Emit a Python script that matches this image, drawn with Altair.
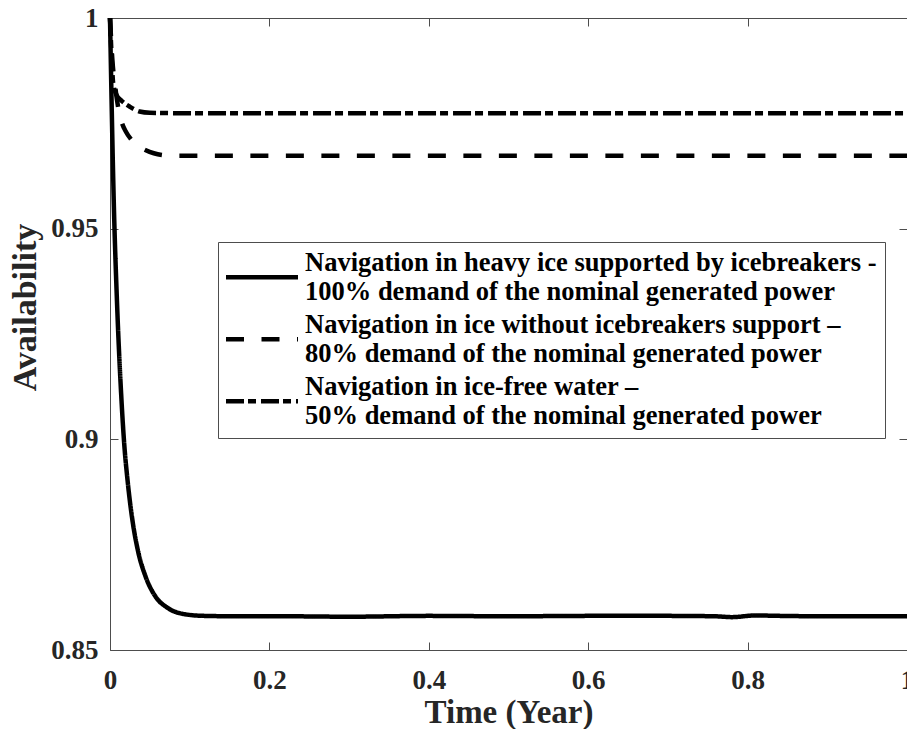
import altair as alt
import pandas as pd

# ---- axis ticks ----
x_ticks = [0, 0.2, 0.4, 0.6, 0.8, 1.0]
y_ticks = [0.85, 0.9, 0.95, 1.0]

# ---- series labels (| = line break in legend) ----
series_labels = [
    "Navigation in heavy ice supported by icebreakers -|100% demand of the nominal generated power",
    "Navigation in ice without icebreakers support –|80% demand of the nominal generated power",
    "Navigation in ice-free water –|50% demand of the nominal generated power",
]

# ---- series values ----
heavy_t = [0, 0.005, 0.0087, 0.0145, 0.0175, 0.0224, 0.0287, 0.0349, 0.0449, 0.0574,
           0.0723, 0.0935, 0.118, 0.16, 0.22, 0.3, 0.4, 0.5, 0.6, 0.7, 0.76, 0.78,
           0.81, 0.84, 0.9, 1.0]
heavy_a = [1.0, 0.9544, 0.933, 0.909, 0.8998, 0.8896, 0.8801, 0.8737, 0.8673, 0.8626,
           0.8600, 0.8585, 0.8581, 0.8580, 0.8580, 0.8579, 0.8581, 0.8580, 0.8581, 0.8581,
           0.8580, 0.8578, 0.8582, 0.8581, 0.8580, 0.8580]

noib_t = [0, 0.003, 0.007, 0.011, 0.015, 0.02, 0.026, 0.035, 0.045, 0.055, 0.065, 0.08,
          0.12, 0.3, 0.5, 0.7, 0.9, 1.0]
noib_a = [1.0, 0.990, 0.983, 0.978, 0.9751, 0.9730, 0.9713, 0.9697, 0.9686, 0.9679,
          0.9675, 0.9673, 0.9673, 0.9673, 0.9673, 0.9673, 0.9673, 0.9673]

free_t = [0, 0.002, 0.004, 0.008, 0.0137, 0.0245, 0.037, 0.05, 0.1, 0.3, 0.5, 0.7, 0.9, 1.0]
free_a = [1.0, 0.991, 0.9845, 0.9818, 0.9805, 0.9790, 0.9778, 0.9775, 0.9774, 0.9774,
          0.9774, 0.9774, 0.9774, 0.9774]

rows = []
for lab, ts, vs in zip(series_labels, [heavy_t, noib_t, free_t], [heavy_a, noib_a, free_a]):
    for i, (t, v) in enumerate(zip(ts, vs)):
        rows.append({"t": t, "a": v, "series": lab, "i": i})
df = pd.DataFrame(rows)
frame = pd.DataFrame({"t": [x_ticks[0], x_ticks[-1]], "a": [y_ticks[0], y_ticks[-1]]})

FONT = "Liberation Serif"
TXT = "#262626"
AX = "#4d4d4d"
W, H = 797, 632

xs = alt.Scale(domain=[0, 1], nice=False, zero=False)
ys = alt.Scale(domain=[0.85, 1], nice=False, zero=False)

lines = alt.Chart(df).mark_line(
    color="black", strokeWidth=4.5, strokeCap="butt", interpolate="monotone"
).encode(
    x=alt.X("t:Q", scale=xs, axis=alt.Axis(
        orient="bottom", values=x_ticks, format=".1~f", ticks=False, domain=False, grid=False,
        labelFont=FONT, labelFontSize=27, labelFontWeight="bold", labelColor=TXT,
        labelPadding=17, labelFlush=False, labelOverlap=False,
        title="Time (Year)", titleFont=FONT, titleFontSize=33, titleFontWeight="bold",
        titleColor=TXT, titleBaseline="alphabetic", titleY=72)),
    y=alt.Y("a:Q", scale=ys, axis=alt.Axis(
        orient="left", values=y_ticks, format=".2~f", ticks=False, domain=False, grid=False,
        labelFont=FONT, labelFontSize=27, labelFontWeight="bold", labelColor=TXT,
        labelPadding=12, labelOverlap=False,
        title="Availability", titleFont=FONT, titleFontSize=34, titleFontWeight="bold",
        titleColor=TXT, titleAngle=-90, titleAlign="center", titleBaseline="alphabetic",
        titleX=-75, titleY=289)),
    strokeDash=alt.StrokeDash("series:N", scale=alt.Scale(
        domain=series_labels, range=[[1, 0], [18, 17.5], [18, 4, 8, 5]]),
        legend=alt.Legend(
            orient="none", legendX=108, legendY=224, title=None,
            symbolType="M-3.6,1.4H3.6", symbolSize=400, symbolStrokeWidth=4.5,
            symbolStrokeColor="black", symbolFillColor="transparent", symbolOffset=22.75,
            labelExpr="split(datum.label, '|')",
            labelFont=FONT, labelFontSize=26.5, labelFontWeight="bold", labelColor="black",
            labelLimit=0, labelOffset=29.75, rowPadding=6, padding=8,
            strokeColor=AX, fillColor="white")),
    detail="series:N",
    order="i:Q",
)

ticks_a = alt.Chart(frame).mark_point(opacity=0).encode(
    x=alt.X("t:Q", scale=xs, axis=alt.Axis(
        orient="top", offset=-H, values=x_ticks, labels=False, domain=False, grid=False,
        ticks=True, tickSize=8, tickColor=AX, tickWidth=1, title=None)),
    y=alt.Y("a:Q", scale=ys, axis=alt.Axis(
        orient="right", offset=-W, values=y_ticks, labels=False, domain=False, grid=False,
        ticks=True, tickSize=8, tickColor=AX, tickWidth=1, title=None)),
)

ticks_b = alt.Chart(frame).mark_point(opacity=0).encode(
    x=alt.X("t:Q", scale=xs, axis=alt.Axis(
        orient="bottom", offset=-H, values=x_ticks, labels=False, domain=False, grid=False,
        ticks=True, tickSize=8, tickColor=AX, tickWidth=1, title=None)),
    y=alt.Y("a:Q", scale=ys, axis=alt.Axis(
        orient="left", offset=-W, values=y_ticks, labels=False, domain=False, grid=False,
        ticks=True, tickSize=8, tickColor=AX, tickWidth=1, title=None)),
)

chart = alt.layer(lines, ticks_a, ticks_b).resolve_axis(
    x="independent", y="independent"
).properties(
    width=W, height=H,
    autosize=alt.AutoSizeParams(type="none"),
    padding={"left": 102, "top": 10, "right": 0, "bottom": 79},
).configure_view(stroke=AX, strokeWidth=1)

chart.save("out.html", embed_options={"renderer": "svg", "actions": False})
